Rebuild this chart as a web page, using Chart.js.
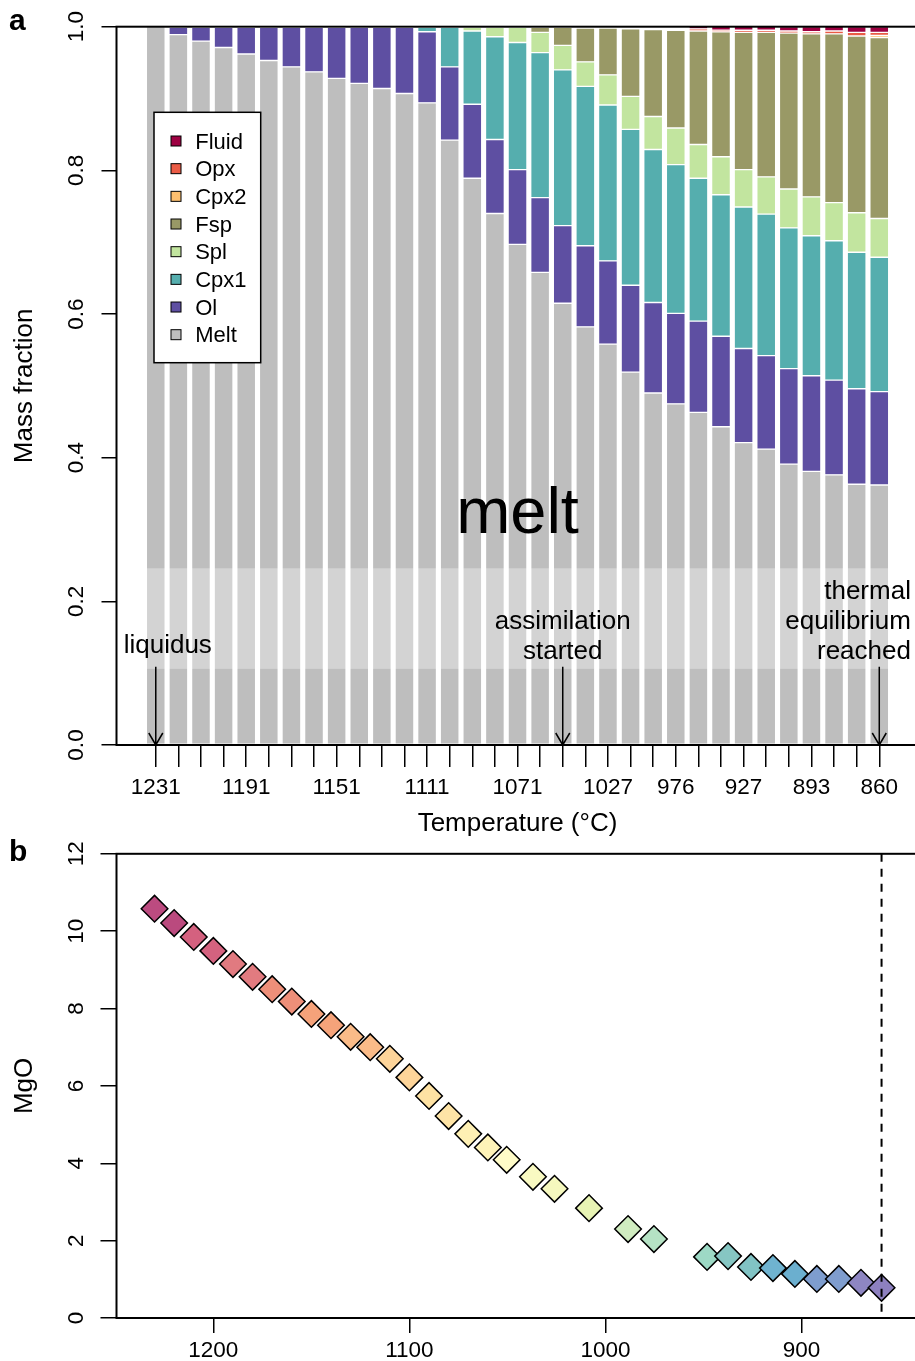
<!DOCTYPE html>
<html><head><meta charset="utf-8">
<script src="https://cdn.jsdelivr.net/npm/chart.js@4.4.1/dist/chart.umd.min.js"></script>
<style>
html,body{margin:0;padding:0;background:#fff;width:915px;height:1361px;overflow:hidden;}
canvas{position:absolute;left:0;}
#ca{top:0;} #cb{top:839px;}
</style></head><body>
<canvas id="ca" width="925" height="845"></canvas>
<canvas id="cb" width="934" height="522"></canvas>
<script>
// ---------- data: panel a ----------
const stepTemps = [1231,1221,1211,1201,1191,1181,1171,1161,1151,1141,1131,1121,1111,1101,1091,1081,1071,1061,1051,1038,1027,1010,990,976,949,939,927,916,904,893,882,871,860];
const shownTicks = [1231,1191,1151,1111,1071,1027,976,927,893,860];
const massTicks = [0,0.2,0.4,0.6,0.8,1.0];
const melt  = [1.000,0.989,0.980,0.971,0.962,0.953,0.944,0.937,0.928,0.921,0.914,0.907,0.894,0.842,0.789,0.740,0.697,0.658,0.615,0.582,0.558,0.519,0.490,0.475,0.463,0.443,0.421,0.412,0.391,0.381,0.376,0.363,0.362];
const ol    = [0,0.010,0.019,0.028,0.037,0.046,0.055,0.062,0.071,0.078,0.085,0.092,0.099,0.102,0.103,0.103,0.104,0.104,0.108,0.113,0.116,0.121,0.126,0.126,0.127,0.126,0.131,0.130,0.133,0.133,0.132,0.133,0.130];
const cpx1  = [0,0,0,0,0,0,0,0,0,0,0,0,0.006,0.055,0.102,0.143,0.177,0.202,0.217,0.222,0.217,0.217,0.213,0.207,0.199,0.197,0.197,0.197,0.196,0.195,0.194,0.190,0.187];
const spl   = [0,0,0,0,0,0,0,0,0,0,0,0,0,0,0.005,0.013,0.021,0.028,0.034,0.034,0.042,0.046,0.046,0.051,0.047,0.053,0.052,0.052,0.054,0.054,0.053,0.055,0.054];
const fsp   = [0,0,0,0,0,0,0,0,0,0,0,0,0,0,0,0,0,0.007,0.025,0.047,0.065,0.094,0.121,0.136,0.158,0.174,0.191,0.201,0.217,0.227,0.235,0.246,0.252];
const cpx2  = [0,0,0,0,0,0,0,0,0,0,0,0,0,0,0,0,0,0,0,0,0,0,0,0,0,0,0,0,0,0,0,0,0.003];
const opx   = [0,0,0,0,0,0,0,0,0,0,0,0,0,0,0,0,0,0,0,0,0,0,0,0,0.003,0.002,0.003,0.003,0.003,0.003,0.004,0.005,0.004];
const fluid = [0,0,0,0,0,0,0,0,0,0,0,0,0,0,0,0,0,0,0,0,0,0,0,0,0.004,0.006,0.006,0.006,0.006,0.007,0.007,0.008,0.008];
// ---------- data: panel b ----------
const mgoTemp = [1230,1220,1210,1200,1190,1180,1170,1160,1150,1140,1130,1120,1110,1100,1090,1080,1070,1060,1050.4,1037,1026,1008.4,988.5,975.3,948.2,937.5,925.8,914.6,903.4,892.2,881,869.7,859.2];
const mgo     = [10.58,10.21,9.85,9.49,9.15,8.82,8.50,8.18,7.86,7.57,7.27,7.00,6.70,6.22,5.74,5.22,4.76,4.41,4.09,3.65,3.34,2.84,2.30,2.04,1.58,1.60,1.32,1.29,1.14,1.01,1.01,0.91,0.78];
const tTicks  = [1200,1100,1000,900];
const mgoTicks = [0,2,4,6,8,10,12];

// ---------- styles ----------
const FONT = '"Liberation Sans", Arial, Helvetica, sans-serif';
const phaseStyles = [
  ['Melt', melt, '#BEBEBE'],
  ['Ol', ol, '#5E4FA2'],
  ['Cpx1', cpx1, '#55AEAE'],
  ['Spl', spl, '#C2E59F'],
  ['Fsp', fsp, '#999966'],
  ['Cpx2', cpx2, '#FDBF6F'],
  ['Opx', opx, '#EA5B45'],
  ['Fluid', fluid, '#9E0142']
];
const pointColors = ['#BC4B80','#BA4A7E','#D4617F','#D4627F','#E17A80','#E27B80','#EE8F79','#EE8F79','#F5A27A','#F5A37A','#FABB88','#FABB88','#FDD499','#FDD499','#FEE2A3','#FEE4A6','#FEF0B4','#FEF3B8','#FFFCC8','#F9FAC2','#F5F8BE','#E8F4B4','#D0ECC0','#B5E2C4','#9DD9C5','#86C6C3','#81C3C4','#6FB3D0','#6BAFCF','#7E9DCE','#7F9DCE','#8E86C2','#8D80BF'];

// annotation placements (data units of panel a)
const BAND = [0.106, 0.246];
const meltLabel = {at: 16, base: 0.295};
const notes = [
  {lines:['liquidus'], at:0.53, align:'center', base:0.1285},
  {lines:['assimilation','started'], at:18, align:'center', base:0.1197},
  {lines:['thermal','equilibrium','reached'], at:33.4, align:'right', base:0.1197}
];
const arrowSteps = [0, 18, 32];
const ARROW_TOP = 0.109;

function text(ctx, s, x, y, size, opt={}) {
  ctx.save();
  ctx.font = (opt.weight||'normal') + ' ' + size + 'px ' + FONT;
  ctx.fillStyle = '#000';
  ctx.textAlign = opt.align || 'center';
  ctx.textBaseline = opt.baseline || 'alphabetic';
  ctx.translate(x, y);
  if (opt.rot) ctx.rotate(opt.rot);
  ctx.fillText(s, 0, 0);
  ctx.restore();
}
function frame(chart) {
  const {ctx, chartArea:a} = chart;
  ctx.save();
  ctx.strokeStyle = '#000'; ctx.lineWidth = 2;
  ctx.strokeRect(a.left, a.top, a.right - a.left, a.bottom - a.top);
  ctx.restore();
}
function yLabels(chart, ticks, fmt, title) {
  const {ctx, chartArea:a, scales:{y}} = chart;
  ticks.forEach(v => text(ctx, fmt(v), 83.3, y.getPixelForValue(v), 22.5, {rot:-Math.PI/2}));
  text(ctx, title, 31.7, (a.top + a.bottom)/2, 26, {rot:-Math.PI/2});
}

const panelA = {
  id: 'panelA',
  afterDatasetsDraw(chart) {
    const {ctx, chartArea:a, scales:{y}} = chart;
    const yt = y.getPixelForValue(BAND[1]), yb = y.getPixelForValue(BAND[0]);
    ctx.save();
    ctx.fillStyle = 'rgba(255,255,255,0.33)';
    ctx.fillRect(a.left, yt, a.right - a.left, yb - yt);
    ctx.restore();
  },
  afterDraw(chart) {
    const {ctx, chartArea:a, scales:{x, y}} = chart;
    frame(chart);
    yLabels(chart, massTicks, v => v.toFixed(1), 'Mass fraction');
    text(ctx, 'Temperature (°C)', 517.5, 831, 26);
    text(ctx, 'a', 9, 30, 30, {weight:'bold', align:'left'});
    text(ctx, 'melt', x.getPixelForValue(meltLabel.at), y.getPixelForValue(meltLabel.base), 65);
    notes.forEach(n => {
      const px = x.getPixelForValue(n.at), pb = y.getPixelForValue(n.base);
      const L = n.lines.length;
      n.lines.forEach((s, k) => text(ctx, s, px, pb - (L - 1 - k) * 29.8, 26, {align:n.align}));
    });
    ctx.save();
    ctx.strokeStyle = '#000'; ctx.lineWidth = 1.5;
    arrowSteps.forEach(i => {
      const px = x.getPixelForValue(i), p0 = y.getPixelForValue(ARROW_TOP), p1 = y.getPixelForValue(0);
      ctx.beginPath();
      ctx.moveTo(px, p0); ctx.lineTo(px, p1);
      ctx.moveTo(px - 7, p1 - 12); ctx.lineTo(px, p1); ctx.lineTo(px + 7, p1 - 12);
      ctx.stroke();
    });
    ctx.restore();
    const ds = chart.data.datasets.slice().reverse();
    ctx.save();
    ctx.fillStyle = '#fff';
    ctx.fillRect(154, 112.3, 106.7, 250.4);
    ctx.strokeStyle = '#000'; ctx.lineWidth = 1.5;
    ctx.strokeRect(154, 112.3, 106.7, 250.4);
    ds.forEach((d, k) => {
      const cy = 141 + k * 27.67;
      ctx.fillStyle = d.backgroundColor;
      ctx.fillRect(171, cy - 5, 10, 10);
      ctx.lineWidth = 1; ctx.strokeStyle = '#000';
      ctx.strokeRect(171, cy - 5, 10, 10);
      text(ctx, d.label, 195.2, cy + 7.8, 22, {align:'left'});
    });
    ctx.restore();
  }
};

const panelB = {
  id: 'panelB',
  afterDatasetsDraw(chart) {
    const {ctx, chartArea:a, scales:{x}} = chart;
    const px = x.getPixelForValue(mgoTemp[mgoTemp.length - 1]);
    ctx.save();
    ctx.strokeStyle = '#000'; ctx.lineWidth = 2; ctx.setLineDash([8, 7]);
    ctx.beginPath(); ctx.moveTo(px, a.top); ctx.lineTo(px, a.bottom); ctx.stroke();
    ctx.restore();
  },
  afterDraw(chart) {
    frame(chart);
    yLabels(chart, mgoTicks, v => String(v), 'MgO');
    text(chart.ctx, 'b', 9, 22, 30, {weight:'bold', align:'left'});
  }
};

Chart.defaults.font.family = FONT;
Chart.defaults.color = '#000';

new Chart(document.getElementById('ca'), {
  type: 'bar',
  data: {
    datasets: phaseStyles.map(([label, vals, color]) => ({
      label, data: vals.map((v, i) => ({x: i, y: v})),
      backgroundColor: color, borderColor: '#ffffff', borderWidth: 1,
      borderSkipped: false, barThickness: 18.84
    }))
  },
  options: {
    responsive: false, animation: false, devicePixelRatio: 1,
    layout: {padding: {top: 26.7, right: 2.7, bottom: 0, left: 0}},
    plugins: {legend: {display: false}, tooltip: {enabled: false}},
    scales: {
      x: {
        type: 'linear', stacked: true, offset: false, min: -1.737, max: 33.903,
        afterBuildTicks: s => { s.ticks = stepTemps.map((t, i) => ({value: i})); },
        afterFit: s => { s.height = 100; },
        grid: {offset: false, drawOnChartArea: false, drawTicks: true, tickLength: 22, color: '#000', lineWidth: 1.5},
        border: {display: false},
        ticks: {autoSkip: false, maxRotation: 0, minRotation: 0, padding: 7.7, color: '#000',
          font: {family: FONT, size: 22.5, lineHeight: 1.2},
          callback: v => shownTicks.includes(stepTemps[v]) ? String(stepTemps[v]) : ''}
      },
      y: {
        stacked: true, min: 0, max: 1,
        afterBuildTicks: s => { s.ticks = massTicks.map(v => ({value: v})); },
        afterFit: s => { s.width = 116.5; },
        grid: {drawOnChartArea: false, drawTicks: true, tickLength: 15, color: '#000', lineWidth: 1.5},
        border: {display: false},
        ticks: {display: false}
      }
    }
  },
  plugins: [panelA]
});

new Chart(document.getElementById('cb'), {
  type: 'scatter',
  data: {
    datasets: [{
      data: mgoTemp.map((t, i) => ({x: t, y: mgo[i]})),
      pointStyle: 'rectRot', pointRadius: 13.3, pointHoverRadius: 13.3, pointBorderWidth: 1.5,
      pointBorderColor: '#000', pointBackgroundColor: pointColors, showLine: false
    }]
  },
  options: {
    responsive: false, animation: false, devicePixelRatio: 1,
    layout: {padding: {top: 0, right: 0, bottom: 0, left: 0}},
    plugins: {legend: {display: false}, tooltip: {enabled: false}},
    scales: {
      x: {
        type: 'linear', reverse: true, min: 840, max: 1249.4,
        afterBuildTicks: s => { s.ticks = tTicks.map(v => ({value: v})); },
        afterFit: s => { s.height = 43; },
        grid: {drawOnChartArea: false, drawTicks: true, tickLength: 15, color: '#000', lineWidth: 1.5},
        border: {display: false},
        ticks: {autoSkip: false, maxRotation: 0, padding: 4.7, color: '#000',
          font: {family: FONT, size: 22.5, lineHeight: 1.2}, callback: v => String(v)}
      },
      y: {
        min: 0, max: 12,
        afterBuildTicks: s => { s.ticks = mgoTicks.map(v => ({value: v})); },
        afterFit: s => { s.width = 116.5; },
        grid: {drawOnChartArea: false, drawTicks: true, tickLength: 16, color: '#000', lineWidth: 1.5},
        border: {display: false},
        ticks: {display: false}
      }
    }
  },
  plugins: [panelB]
});
</script></body></html>
